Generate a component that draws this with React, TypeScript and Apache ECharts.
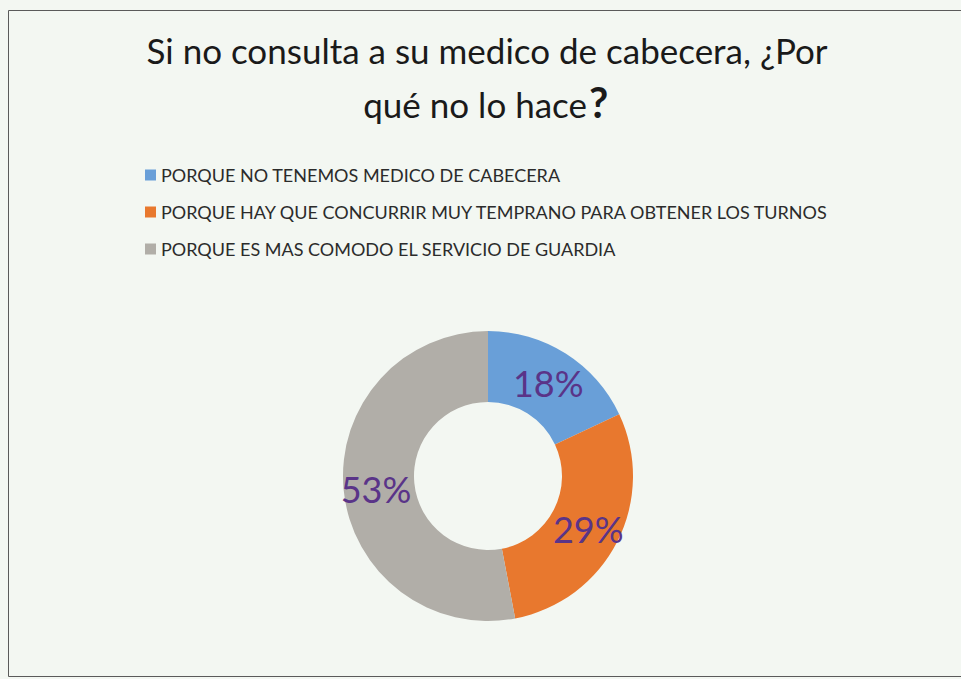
import React, { useEffect, useRef } from "react";
import * as echarts from "echarts";

const titleLine1 = "Si no consulta a su medico de cabecera, ¿Por";
const titleLine2 = "qué no lo hace";
const categories = [
  "PORQUE NO TENEMOS MEDICO DE CABECERA",
  "PORQUE HAY QUE CONCURRIR MUY TEMPRANO PARA OBTENER LOS TURNOS",
  "PORQUE ES MAS COMODO EL SERVICIO DE GUARDIA",
];
const values = [18, 29, 53];
const colors = ["#699fd8", "#e8782e", "#b1aea8"];

export default function App() {
  const ref = useRef<HTMLDivElement>(null);
  useEffect(() => {
    if (!ref.current) return;
    const chart = echarts.init(ref.current, undefined, { renderer: "svg" });
    chart.setOption({
      animation: false,
      backgroundColor: "#f3f7f2",
      color: colors,
      legend: {
        orient: "vertical",
        left: 140,
        top: 161,
        itemWidth: 11,
        itemHeight: 11,
        itemGap: 19,
        icon: "rect",
        selectedMode: false,
        data: categories,
        textStyle: {
          fontFamily: "Lato",
          fontSize: 18,
          lineHeight: 18,
          color: "#2b2b2b",
        },
      },
      graphic: [
        {
          type: "rect",
          silent: true,
          shape: { x: 8.5, y: 10.5, width: 980, height: 666 },
          style: { fill: "none", stroke: "#5a5a5a", lineWidth: 1 },
        },
        {
          type: "text",
          x: 487,
          y: 50,
          style: {
            text: titleLine1,
            align: "center",
            verticalAlign: "middle",
            fontFamily: "Lato",
            fontSize: 35,
            fill: "#1a1a1a",
          },
        },
        {
          type: "text",
          x: 587,
          y: 104,
          style: {
            text: titleLine2,
            align: "right",
            verticalAlign: "middle",
            fontFamily: "Lato",
            fontSize: 35,
            fill: "#1a1a1a",
          },
        },
        {
          type: "text",
          x: 589,
          y: 102,
          style: {
            text: "?",
            align: "left",
            verticalAlign: "middle",
            fontFamily: "Lato",
            fontWeight: "bold",
            fontSize: 42,
            fill: "#1a1a1a",
          },
        },
      ],
      series: [
        {
          type: "pie",
          center: [488, 476],
          radius: [74, 145],
          startAngle: 90,
          clockwise: true,
          avoidLabelOverlap: false,
          silent: true,
          label: {
            show: true,
            position: "inside",
            formatter: "{c}%",
            fontFamily: "Lato",
            fontSize: 36,
            color: "#5a3488",
            offset: [0, 2],
          },
          labelLine: { show: false },
          itemStyle: { borderWidth: 0 },
          data: categories.map((name, i) => ({ name, value: values[i] })),
        },
      ],
    });
    return () => chart.dispose();
  }, []);
  return (
    <div
      ref={ref}
      style={{ position: "fixed", left: 0, top: 0, width: 961, height: 679 }}
    />
  );
}
